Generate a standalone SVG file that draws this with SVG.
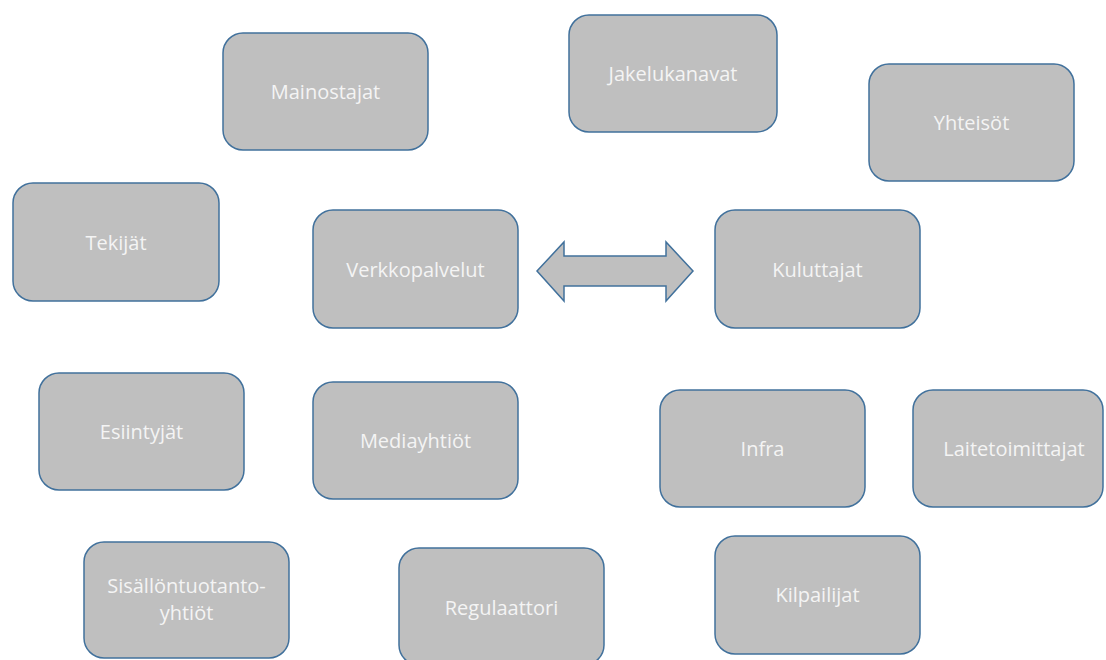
<svg xmlns="http://www.w3.org/2000/svg" width="1106" height="660" viewBox="0 0 1106 660">
  <style>
    .box { fill: #bfbfbf; stroke: #41719c; stroke-width: 1.5; }
    .lbl { fill: #f4f4f4; font-family: "Open Sans", "Noto Sans", sans-serif; font-size: 20px; text-anchor: middle; }
  </style>
  <rect width="1106" height="660" fill="#ffffff"/>

  <g id="mainostajat">
    <rect class="box" x="223" y="33" width="205" height="117" rx="20"/>
    <text class="lbl" x="325.5" y="99">Mainostajat</text>
  </g>
  <g id="jakelukanavat">
    <rect class="box" x="569" y="15" width="208" height="117" rx="20"/>
    <text class="lbl" x="673" y="81">Jakelukanavat</text>
  </g>
  <g id="yhteisot">
    <rect class="box" x="869" y="64" width="205" height="117" rx="20"/>
    <text class="lbl" x="971.5" y="130">Yhteisöt</text>
  </g>
  <g id="tekijat">
    <rect class="box" x="13" y="183" width="206" height="118" rx="20"/>
    <text class="lbl" x="116" y="249.5">Tekijät</text>
  </g>
  <g id="verkkopalvelut">
    <rect class="box" x="313" y="210" width="205" height="118" rx="20"/>
    <text class="lbl" x="415.5" y="276.5">Verkkopalvelut</text>
  </g>
  <g id="kuluttajat">
    <rect class="box" x="715" y="210" width="205" height="118" rx="20"/>
    <text class="lbl" x="817.5" y="276.5">Kuluttajat</text>
  </g>
  <g id="esiintyjat">
    <rect class="box" x="39" y="373" width="205" height="117" rx="20"/>
    <text class="lbl" x="141.5" y="439">Esiintyjät</text>
  </g>
  <g id="mediayhtiot">
    <rect class="box" x="313" y="382" width="205" height="117" rx="20"/>
    <text class="lbl" x="415.5" y="448">Mediayhtiöt</text>
  </g>
  <g id="infra">
    <rect class="box" x="660" y="390" width="205" height="117" rx="20"/>
    <text class="lbl" x="762.5" y="456">Infra</text>
  </g>
  <g id="laitetoimittajat">
    <rect class="box" x="913" y="390" width="190" height="117" rx="20"/>
    <text class="lbl" x="1014" y="456">Laitetoimittajat</text>
  </g>
  <g id="sisallontuotantoyhtiot">
    <rect class="box" x="84" y="542" width="205" height="116" rx="20"/>
    <text class="lbl" x="186.5" y="593">Sisällöntuotanto-</text>
    <text class="lbl" x="186.5" y="620">yhtiöt</text>
  </g>
  <g id="regulaattori">
    <rect class="box" x="399" y="548" width="205" height="117" rx="20"/>
    <text class="lbl" x="501.5" y="614.5">Regulaattori</text>
  </g>
  <g id="kilpailijat">
    <rect class="box" x="715" y="536" width="205" height="118" rx="20"/>
    <text class="lbl" x="817.5" y="601.5">Kilpailijat</text>
  </g>

  <g id="connectors">
    <path class="box" d="M537,271 L564,242 L564,256 L666,256 L666,242 L693,271 L666,301 L666,286 L564,286 L564,301 Z"/>
  </g>
</svg>
